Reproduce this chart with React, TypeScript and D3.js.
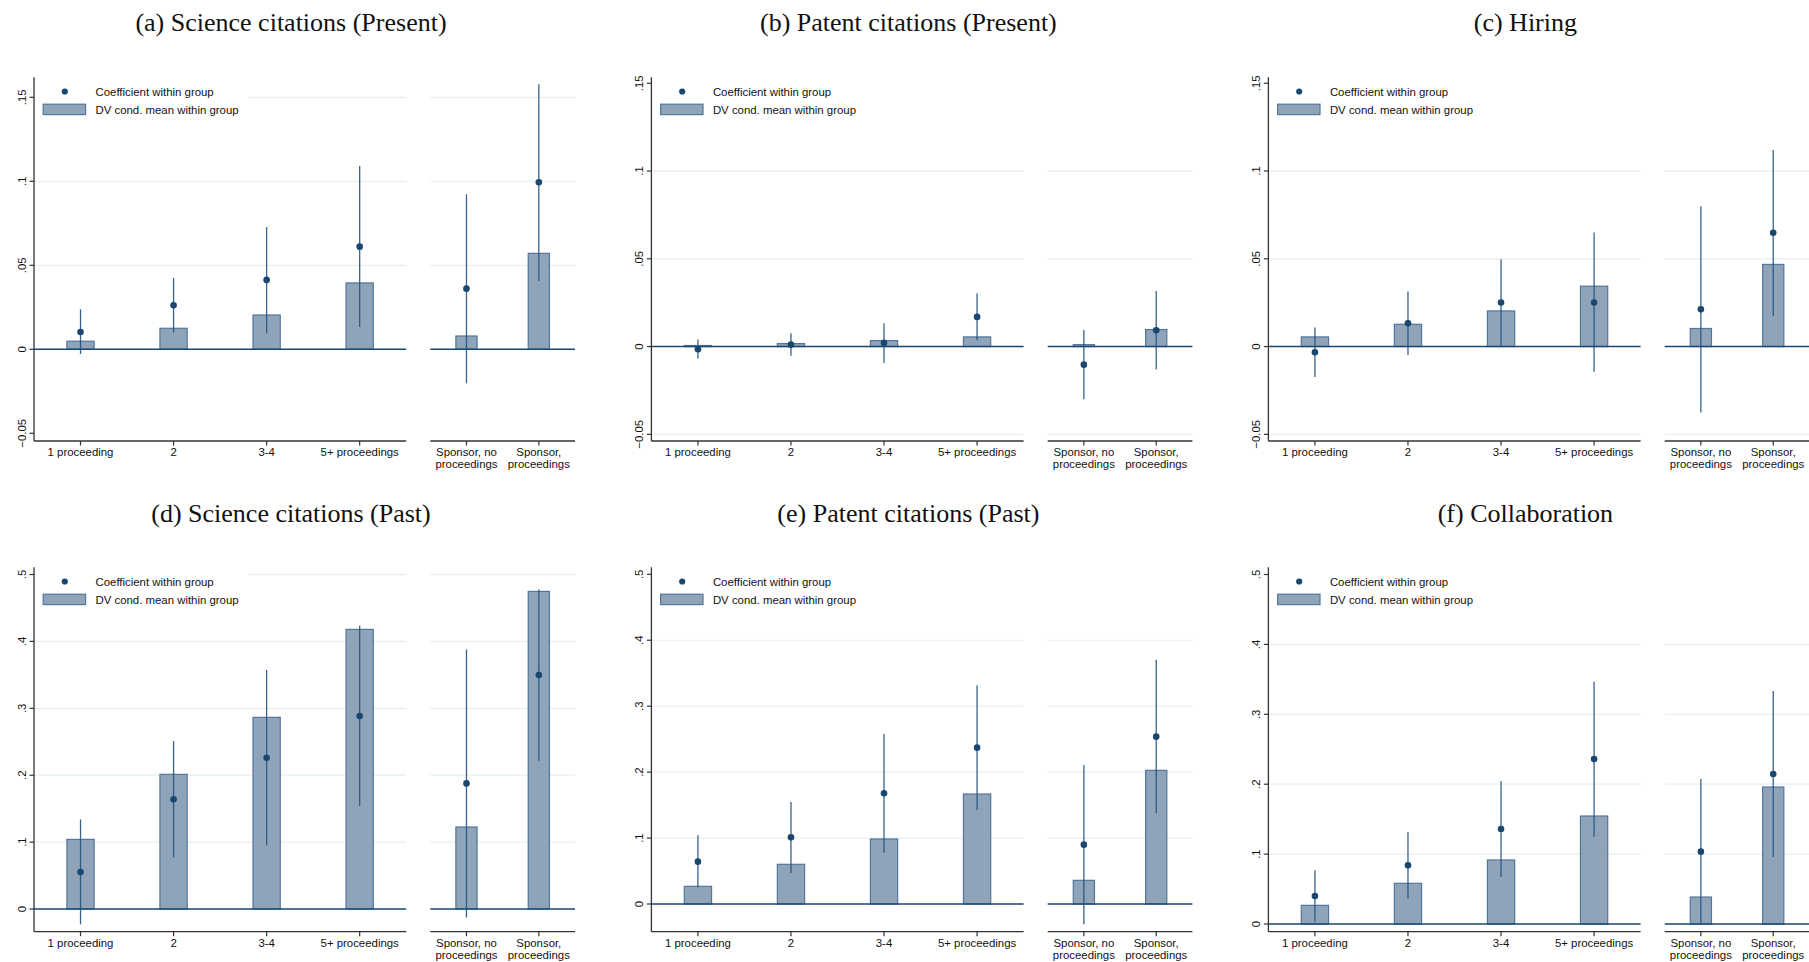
import React from "react";
import * as d3 from "d3";

// Panel titles, in reading order (top row, then bottom row)
const titles = [
  "(a) Science citations (Present)",
  "(b) Patent citations (Present)",
  "(c) Hiring",
  "(d) Science citations (Past)",
  "(e) Patent citations (Past)",
  "(f) Collaboration",
];

// Categories: four proceeding groups on the left, two sponsor groups on the right
const proceedingGroups = ["1 proceeding", "2", "3-4", "5+ proceedings"];
const sponsorGroups = [
  ["Sponsor, no", "proceedings"],
  ["Sponsor,", "proceedings"],
];

const legendLabels = ["Coefficient within group", "DV cond. mean within group"];

// Each series: 4 proceeding groups followed by 2 sponsor groups
const sciPresentMean = [0.0048, 0.0125, 0.0204, 0.0395, 0.0079, 0.0571];
const sciPresentCoef = [0.0103, 0.0262, 0.0413, 0.0611, 0.0361, 0.0994];
const sciPresentLow = [-0.0028, 0.0101, 0.0095, 0.0133, -0.0202, 0.0407];
const sciPresentHigh = [0.0238, 0.0425, 0.0728, 0.1091, 0.0923, 0.1577];

const patPresentMean = [0.0006, 0.0017, 0.0034, 0.0055, 0.0011, 0.0097];
const patPresentCoef = [-0.0015, 0.0011, 0.0021, 0.0169, -0.0103, 0.0093];
const patPresentLow = [-0.0068, -0.0053, -0.0093, 0.0036, -0.03, -0.0131];
const patPresentHigh = [0.004, 0.0076, 0.0133, 0.0304, 0.0095, 0.0316];

const hiringMean = [0.0055, 0.0127, 0.0203, 0.0344, 0.0103, 0.0468];
const hiringCoef = [-0.0032, 0.0133, 0.0251, 0.0251, 0.0212, 0.0648];
const hiringLow = [-0.0173, -0.0048, 0.0002, -0.0144, -0.0376, 0.0175];
const hiringHigh = [0.0108, 0.0314, 0.0498, 0.065, 0.08, 0.112];

const sciPastMean = [0.1041, 0.2013, 0.2865, 0.418, 0.1226, 0.4748];
const sciPastCoef = [0.0553, 0.1639, 0.2262, 0.2885, 0.1878, 0.3498];
const sciPastLow = [-0.0229, 0.0772, 0.0952, 0.154, -0.0125, 0.2217];
const sciPastHigh = [0.134, 0.2511, 0.3573, 0.4235, 0.3881, 0.4778];

const patPastMean = [0.0268, 0.0602, 0.0986, 0.1668, 0.0359, 0.2027];
const patPastCoef = [0.0642, 0.1011, 0.1678, 0.2371, 0.09, 0.2538];
const patPastLow = [0.0253, 0.0465, 0.0778, 0.1426, -0.0308, 0.1375];
const patPastHigh = [0.1041, 0.1547, 0.2578, 0.3316, 0.2108, 0.3705];

const collabMean = [0.0267, 0.0582, 0.0916, 0.1545, 0.0386, 0.196];
const collabCoef = [0.0401, 0.0839, 0.1359, 0.2361, 0.1035, 0.2146];
const collabLow = [0.0033, 0.0362, 0.0677, 0.1249, 0.0, 0.0959];
const collabHigh = [0.0768, 0.1316, 0.2041, 0.3467, 0.2074, 0.3333];

// Axis ticks and ranges
const presentTicks = [-0.05, 0, 0.05, 0.1, 0.15];
const pastTicks = [0, 0.1, 0.2, 0.3, 0.4, 0.5];

const yDomains: [number, number][] = [
  [-0.0546, 0.1619],
  [-0.0538, 0.1534],
  [-0.0538, 0.1534],
  [-0.0339, 0.5108],
  [-0.042, 0.5106],
  [-0.011, 0.5103],
];

const gridValues = [
  [0.05, 0.1, 0.15],
  [-0.05, 0.05, 0.1],
  [-0.05, 0.05, 0.1],
  [0.1, 0.2, 0.3, 0.4, 0.5],
  [0.1, 0.2, 0.3, 0.4],
  [0.1, 0.2, 0.3, 0.4],
];

const panels = [
  { mean: sciPresentMean, coef: sciPresentCoef, lo: sciPresentLow, hi: sciPresentHigh, ticks: presentTicks },
  { mean: patPresentMean, coef: patPresentCoef, lo: patPresentLow, hi: patPresentHigh, ticks: presentTicks },
  { mean: hiringMean, coef: hiringCoef, lo: hiringLow, hi: hiringHigh, ticks: presentTicks },
  { mean: sciPastMean, coef: sciPastCoef, lo: sciPastLow, hi: sciPastHigh, ticks: pastTicks },
  { mean: patPastMean, coef: patPastCoef, lo: patPastLow, hi: patPastHigh, ticks: pastTicks },
  { mean: collabMean, coef: collabCoef, lo: collabLow, hi: collabHigh, ticks: pastTicks },
];

// Layout
const W = 1809;
const H = 962;
const COL_X = [34, 651.4, 1268.4];
const ROW_TOP = [77.3, 567.3];
const ROW_BOTTOM = [441, 931.7];
const TITLE_BASE = [31, 522.3];
const LEFT_W = 372.2;
const RIGHT_START = 396.3;
const RIGHT_END = 541;

const NAVY = "#1a476f";
const BAR_FILL = "#8fa4b9";
const BAR_STROKE = "#52779b";
const CI_STROKE = "#23527f";
const GRID = "#e6eff1";
const AXIS = "#333333";
const SANS = "'Liberation Sans', Arial, Helvetica, sans-serif";
const SERIF = "'Liberation Serif', 'Times New Roman', serif";
const FS = 11.4;

const fmtTick = (v: number) => {
  if (v === 0) return "0";
  const s = d3.format("")(+v.toFixed(3));
  return s.replace(/^(-?)0\./, "$1.");
};

function Panel({ index }: { index: number }) {
  const col = index % 3;
  const row = Math.floor(index / 3);
  const p = panels[index];
  const ax = COL_X[col];
  const top = ROW_TOP[row];
  const bottom = ROW_BOTTOM[row];

  const y = d3.scaleLinear().domain(yDomains[index]).range([bottom, top]);
  const xLeft = d3
    .scaleBand<number>()
    .domain(d3.range(proceedingGroups.length))
    .range([ax, ax + LEFT_W])
    .padding(0);
  const xRight = d3
    .scaleBand<number>()
    .domain(d3.range(sponsorGroups.length))
    .range([ax + RIGHT_START, ax + RIGHT_END])
    .padding(0);

  const centers = [
    ...proceedingGroups.map((_, i) => (xLeft(i) as number) + xLeft.bandwidth() / 2),
    ...sponsorGroups.map((_, i) => (xRight(i) as number) + xRight.bandwidth() / 2),
  ];
  const barW = (i: number) => (i < proceedingGroups.length ? xLeft.bandwidth() : xRight.bandwidth()) * 0.293;

  const subpanels: [number, number][] = [
    [ax, ax + LEFT_W],
    [ax + RIGHT_START, ax + RIGHT_END],
  ];
  const y0 = y(0);

  return (
    <g>
      <text
        x={ax + 257}
        y={TITLE_BASE[row]}
        textAnchor="middle"
        fontFamily={SERIF}
        fontSize={26}
        fill="#111"
      >
        {titles[index]}
      </text>

      {/* grid */}
      {gridValues[index].map((v) =>
        subpanels.map(([a, b], k) => (
          <line key={`g${v}-${k}`} x1={a} x2={b} y1={y(v)} y2={y(v)} stroke={GRID} strokeWidth={1.2} />
        ))
      )}

      {/* legend backdrop */}
      <rect x={ax + 2} y={top + 1} width={213} height={44} fill="#fff" />

      {/* bars: conditional mean of the DV */}
      {p.mean.map((m, i) => (
        <rect
          key={`b${i}`}
          x={centers[i] - barW(i) / 2}
          y={Math.min(y(m), y0)}
          width={barW(i)}
          height={Math.abs(y0 - y(m))}
          fill={BAR_FILL}
          stroke={BAR_STROKE}
          strokeWidth={1.2}
        />
      ))}

      {/* zero reference line */}
      {subpanels.map(([a, b], k) => (
        <line key={`z${k}`} x1={a} x2={b} y1={y0} y2={y0} stroke={NAVY} strokeWidth={1.5} />
      ))}

      {/* confidence intervals */}
      {p.coef.map((_, i) => (
        <line
          key={`ci${i}`}
          x1={centers[i]}
          x2={centers[i]}
          y1={y(p.lo[i])}
          y2={y(p.hi[i])}
          stroke={CI_STROKE}
          strokeWidth={1.3}
          strokeOpacity={0.9}
        />
      ))}

      {/* coefficients */}
      {p.coef.map((c, i) => (
        <circle key={`d${i}`} cx={centers[i]} cy={y(c)} r={3.3} fill={NAVY} />
      ))}

      {/* y axis */}
      <line x1={ax} x2={ax} y1={top} y2={bottom} stroke={AXIS} strokeWidth={1.3} />
      {p.ticks.map((t) => (
        <g key={`yt${t}`}>
          <line x1={ax - 4.5} x2={ax} y1={y(t)} y2={y(t)} stroke={AXIS} strokeWidth={1.2} />
          <text
            transform={`translate(${ax - 8.2},${y(t)}) rotate(-90)`}
            textAnchor="middle"
            fontFamily={SANS}
            fontSize={FS}
            fill="#111"
          >
            {fmtTick(t)}
          </text>
        </g>
      ))}

      {/* x axes */}
      {subpanels.map(([a, b], k) => (
        <line key={`xa${k}`} x1={a} x2={b} y1={bottom} y2={bottom} stroke={AXIS} strokeWidth={1.3} />
      ))}
      {centers.map((cx, i) => (
        <line key={`xt${i}`} x1={cx} x2={cx} y1={bottom} y2={bottom + 4.5} stroke={AXIS} strokeWidth={1.2} />
      ))}
      {proceedingGroups.map((lab, i) => (
        <text
          key={`xl${i}`}
          x={centers[i]}
          y={bottom + 15.4}
          textAnchor="middle"
          fontFamily={SANS}
          fontSize={FS}
          fill="#111"
        >
          {lab}
        </text>
      ))}
      {sponsorGroups.map((lines, i) => (
        <text
          key={`xs${i}`}
          x={centers[proceedingGroups.length + i]}
          y={bottom + 15.4}
          textAnchor="middle"
          fontFamily={SANS}
          fontSize={FS}
          fill="#111"
        >
          {lines.map((ln, j) => (
            <tspan key={j} x={centers[proceedingGroups.length + i]} dy={j === 0 ? 0 : 11.8}>
              {ln}
            </tspan>
          ))}
        </text>
      ))}

      {/* legend */}
      <circle cx={ax + 30.8} cy={top + 14.2} r={3.1} fill={NAVY} />
      <rect
        x={ax + 9.2}
        y={top + 26.9}
        width={42.4}
        height={10.4}
        fill={BAR_FILL}
        stroke={BAR_STROKE}
        strokeWidth={1.2}
      />
      <text x={ax + 61.5} y={top + 18.2} fontFamily={SANS} fontSize={FS} fill="#111">
        {legendLabels[0]}
      </text>
      <text x={ax + 61.5} y={top + 36.4} fontFamily={SANS} fontSize={FS} fill="#111">
        {legendLabels[1]}
      </text>
    </g>
  );
}

export default function App() {
  return (
    <svg
      width={W}
      height={H}
      viewBox={`0 0 ${W} ${H}`}
      style={{ position: "absolute", left: 0, top: 0, display: "block", background: "#fff" }}
    >
      <rect width={W} height={H} fill="#fff" />
      {titles.map((_, i) => (
        <Panel key={i} index={i} />
      ))}
    </svg>
  );
}
